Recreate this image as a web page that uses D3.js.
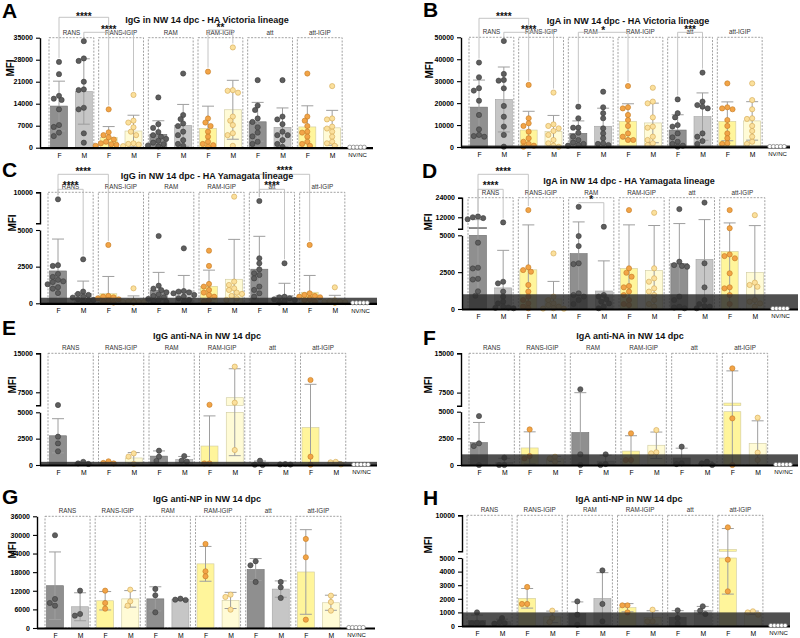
<!DOCTYPE html>
<html><head><meta charset="utf-8">
<script src="https://cdn.jsdelivr.net/npm/d3@7"></script>
<style>body{margin:0;background:#fff} svg{font-family:"Liberation Sans",Arial,sans-serif}</style>
</head><body><svg id="c" width="800" height="638"></svg>
<script>
const groups = ["RANS","RANS-IGIP","RAM","RAM-IGIP","att","att-IGIP"];
const sexes = ["F","M"];
const categories = groups.flatMap(g => sexes.map(s => g + " " + s)).concat(["NV/NC"]);
const nvnc = [0,0,0,0,0];

// values per bar: RANS F, RANS M, RANS-IGIP F, RANS-IGIP M, RAM F, RAM M, RAM-IGIP F, RAM-IGIP M, att F, att M, att-IGIP F, att-IGIP M
const A_IgG_Vic = [
 [27300,23400,16500,15200,15600,12200,7200,6600,4800,3700],
 [33900,27600,28400,21000,18350,18560,12700,12200,4560,1600],
 [12200,4900,4000,3300,2600,1900,1400,1100,900,600],
 [16800,8600,8000,6500,5100,4000,1400,1200,1000,500],
 [16000,7500,6300,5000,4000,3500,2800,2200,1600,1100,700,400],
 [23600,10400,9100,7700,6900,5100,4000,2400,1200,600],
 [24200,9300,8000,6900,5100,3500,1900,1200,800,300],
 [31900,17500,18300,18100,9900,8600,7200,4600,4000,600],
 [21500,13400,12000,9300,8200,6500,4800,3600,1900,1200],
 [21500,9000,9900,7500,5100,4000,4000,2400,1200,300],
 [23600,9900,8600,6900,5100,4800,3500,1900,1200,600],
 [19600,9300,9000,6700,6100,5100,3500,1900,1400,600]
];
const B_IgA_Vic = [
 [38500,31800,25700,26800,21100,14600,8060,5500,4700,5000],
 [48300,33300,30550,30250,26750,18700,13800,9300,5500,150],
 [28300,13100,10800,9600,7000,4000,2400,1400,600,150],
 [24800,10300,9600,8500,7300,5500,3200,1700,600,100],
 [18400,13100,8800,8800,6500,4700,3200,2000,1400,900,600],
 [25200,18100,15400,13100,8500,6200,4000,1700,1400,900],
 [27800,18100,17600,14600,12300,9600,6200,4700,3200,3200],
 [27000,20700,19900,13500,9300,8800,4700,3200,1700,900],
 [21700,15400,13500,10000,9300,6200,4400,2400,1400,600,150],
 [33900,20700,18400,17600,19100,4700,6200,2700,1400],
 [29000,17600,18100,17200,12300,9600,6200,4000,1700,1400],
 [29000,21400,17200,13100,12800,9600,7300,4700,2400,1400]
];
const C_IgG_Yam = [
 [8870,2600,2550,2000,1800,1600,1500,1450,1300,1000,700,1100],
 [3000,800,640,570,450,390,270,230,230,110],
 [3980,500,450,410,340,270,230,180,110,50],
 [1020,150,100,80,60,120,50,90,70],
 [4590,1200,1000,900,750,600,500,400,300,250,150,100],
 [3750,840,800,750,680,570,450,340,230,110],
 [3590,2550,1320,1140,910,730,570,450,230,110],
 [9300,1480,1250,1020,910,730,640,500,340,230],
 [8600,3070,2730,2320,2050,1930,1700,1140,910,680,450],
 [2730,450,410,340,270,230,180,110,50],
 [3980,680,570,500,450,410,340,270,230,110],
 [1090,200,150,120,100,80,60,50,40]
];
const D_IgA_Yam = [
 [12500,12000,11500,10800,4500,2800,2750,2050,2000,1200,900],
 [8860,1850,1740,1180,840,500,380,160,50,100,80],
 [16400,2830,2640,2530,1630,1180,840,610,380,160,50],
 [3770,840,610,380,270,160,50,30,20],
 [18400,4950,4270,3100,3050,1060,950,840,610,340],
 [6220,950,840,660,500,380,160,50],
 [16400,2760,2460,2190,1560,1470,1180,950,610,340,270],
 [14760,2760,2080,1850,1400,1180,950,610,340,160],
 [17000,3210,2870,2920,2980,610,840,160,50,100],
 [21000,3100,1470,610,340,200,160,50],
 [16400,5300,3700,3590,3440,2420,1470,1400,950,340],
 [13300,1790,1630,1510,610,500,380,160]
];
const E_IgG_NA = [
 [5050,2690,2050,1300],[100,300,150],[150,350,200],[1100,800,100],
 [1360,790,380],[850,410,320],[5100,150,150],[12440,5510,1420],
 [410,0,30],[50,80,40],[9870,790,30],[300,250,50]
];
const F_IgA_NA = [
 [4590,2030,1780,0],[690,0,0],[3340,840,620],[780,620,310],
 [8140,1000,0],[1000,0,90],[2970,470,470],[3280,1090,1190],
 [1720,90,160],[310,0,160],[12130,4375,0],[4440,1160,470]
];
const G_IgG_NP = [
 [29900,9350,8060,7200],[12040,4520,3980],[12040,8060,6240],[12360,8600,7200],
 [12580,10540,5050],[9140,9460,9030],[27090,18280,16660],[10750,10000,5910],
 [21500,20210,14840],[14840,13120,9680],[28700,22790,2690],[8390,10430,5590]
];
const H_IgA_NP = [
 [1000,200,180,240],[590,220,270,170],[2870,1620,1620],[1130,590,290],
 [1810,830,100],[4090,1620,340],[1520,1520,1000],[1200,340,340],
 [1150,590,170],[1450,1130,880],[8330,4880,2550],[1080,1000,830]
];

const A_ticks = [0,7000,14000,21000,28000,35000];
const B_ticks = [0,10000,20000,30000,40000,50000];
const C_ticksLo = [0,2500,5000], C_ticksUp = [10000];
const D_ticksLo = [0,2500,5000], D_ticksUp = [12000,24000];
const E_ticksLo = [0,2500,5000], E_ticksUp = [7500,15000];
const F_ticksLo = [0,2500,5000], F_ticksUp = [7500,15000];
const G_ticks = [0,6000,12000,18000,24000,30000,36000];
const H_ticksLo = [0,1000,2000,3000,4000,5000], H_ticksUp = [10000];

const A_sig = [{a:0,b:2,ly:17.3,ty:20,t:"****"},{a:1,b:3,ly:32.3,ty:32.8,t:"****"},{a:6,b:7,ly:30,ty:30.8,t:"**"}];
const B_sig = [{a:0,b:2,ly:18.3,ty:19.8,t:"****"},{a:1,b:3,ly:32.3,ty:32.5,t:"****"},{a:4,b:6,ly:32.3,ty:34,t:"*"},{a:8,b:9,ly:32.3,ty:32.5,t:"***"}];
const C_sig = [{a:0,b:2,ly:174.3,ty:175,t:"****"},{a:0,b:1,ly:189.3,ty:189,t:"****"},{a:8,b:10,ly:174.3,ty:174,t:"****"},{a:8,b:9,ly:189.3,ty:189,t:"****"}];
const D_sig = [{a:0,b:2,ly:174.3,ty:175,t:"****"},{a:0,b:1,ly:189.3,ty:189,t:"****"},{a:4,b:5,ly:202.7,ty:203,t:"*"}];

const panels = [
 {letter:"A",lx:2,ly:18,title:"IgG in NW 14 dpc - HA Victoria lineage",tx:207,ty:23,data:A_IgG_Vic,c0:59,c12:357,yAxisX:40,axisEnd:373,y0:147.7,yTop:37.7,max:35000,ticks:A_ticks,band:0,mfi:[10,68],sig:A_sig},
 {letter:"B",lx:423,ly:17,title:"IgA in NW 14 dpc - HA Victoria lineage",tx:628,ty:23.5,data:B_IgA_Vic,c0:479,c12:777,yAxisX:461,axisEnd:790,y0:147,yTop:37.3,max:50000,ticks:B_ticks,band:700,mfi:[429,70],sig:B_sig},
 {letter:"C",lx:2,ly:177,title:"IgG in NW 14 dpc - HA Yamagata lineage",tx:207,ty:178.5,data:C_IgG_Yam,c0:58,c12:360,yAxisX:40,axisEnd:377,y0:303.3,yTop:192.3,brk:5000,yLoTop:230,yUpBot:223.3,max:10000,ticksLo:C_ticksLo,ticksUp:C_ticksUp,band:380,mfi:[12,223],sig:C_sig},
 {letter:"D",lx:422,ly:178,title:"IgA in NW 14 dpc - HA Yamagata lineage",tx:629,ty:183.5,data:D_IgA_Yam,c0:478,c12:780,yAxisX:462,axisEnd:798,y0:309,yTop:197.7,brk:5000,yLoTop:235.3,yUpBot:228.7,max:24000,ticksLo:D_ticksLo,ticksUp:D_ticksUp,band:1000,mfi:[428,222],sig:D_sig},
 {letter:"E",lx:2,ly:335,title:"IgG anti-NA in NW 14 dpc",tx:207,ty:338.5,data:E_IgG_NA,c0:58,c12:361,yAxisX:40,axisEnd:377,y0:465,yTop:353.3,brk:5000,yLoTop:412.3,yUpBot:405.3,max:15000,ticksLo:E_ticksLo,ticksUp:E_ticksUp,band:300,mfi:[12,385],sig:[]},
 {letter:"F",lx:423,ly:345,title:"IgA anti-NA in NW 14 dpc",tx:630,ty:338.5,data:F_IgA_NA,c0:479,c12:783,yAxisX:461,axisEnd:798,y0:465,yTop:353.3,brk:5000,yLoTop:411.7,yUpBot:405.7,max:15000,ticksLo:F_ticksLo,ticksUp:F_ticksUp,band:1000,mfi:[428,385],sig:[]},
 {letter:"G",lx:2,ly:504,title:"IgG anti-NP in NW 14 dpc",tx:207,ty:502,data:G_IgG_NP,c0:55,c12:356,yAxisX:37,axisEnd:375,y0:628,yTop:516.3,max:36000,ticks:G_ticks,band:0,mfi:[12,550],sig:[]},
 {letter:"H",lx:423,ly:505,title:"IgA anti-NP in NW 14 dpc",tx:629,ty:501.5,data:H_IgA_NP,c0:477,c12:778,yAxisX:462,axisEnd:790,y0:626,yTop:515.3,brk:5000,yLoTop:558,yUpBot:551.3,max:10000,ticksLo:H_ticksLo,ticksUp:H_ticksUp,band:1000,mfi:[428,545],sig:[]}
];

const svg = d3.select("#c");
const FONT = "'Liberation Sans', Arial, sans-serif";

function swarm(vals, y, cx, r){
  const placed = [];
  const pts = vals.map(v => ({v, py:y(v)})).sort((a,b) => a.py - b.py);
  const offs = [0,-1,1,-2,2,-3,3,-4,4,-5,5].map(k => k*2.6);
  pts.forEach(d => {
    for (const o of offs){
      const px = cx + o;
      if (placed.every(q => Math.hypot(q.px-px, q.py-d.py) >= 2*r*0.92)) { d.px = px; placed.push(d); return; }
    }
    d.px = cx; placed.push(d);
  });
  return placed;
}

function styleAxis(ga){
  ga.attr("font-family", FONT).attr("font-size", 7).attr("font-weight", "bold");
  ga.select(".domain").attr("stroke", "#000").attr("stroke-width", 1.4);
  ga.selectAll(".tick line").attr("stroke", "#000").attr("stroke-width", 1.1);
  ga.selectAll(".tick text").attr("fill", "#000");
}

panels.forEach(p => {
  const g = svg.append("g");
  const x = d3.scalePoint().domain(categories).range([p.c0, p.c12]);
  const lo = d3.scaleLinear().domain([0, p.brk || p.max]).range([p.y0, p.brk ? p.yLoTop : p.yTop]);
  const up = p.brk ? d3.scaleLinear().domain([p.brk, p.max]).range([p.yUpBot, p.yTop]) : null;
  const y = v => (p.brk && v > p.brk) ? up(v) : lo(v);

  // group boxes + labels
  groups.forEach(gr => {
    const xf = x(gr + " F"), xm = x(gr + " M");
    g.append("rect").attr("x", xf - 10).attr("y", p.yTop).attr("width", xm - xf + 20).attr("height", p.y0 - p.yTop)
      .attr("fill", "none").attr("stroke", "#8a8a8a").attr("stroke-width", 0.8).attr("stroke-dasharray", "2,1.4");
    g.append("text").attr("x", (xf + xm) / 2).attr("y", p.yTop - 3).attr("text-anchor", "middle")
      .attr("font-size", 6.3).attr("fill", "#333").text(gr);
  });

  // significance brackets
  p.sig.forEach(s => {
    const xa = x(categories[s.a]), xb = x(categories[s.b]);
    const ta = y(d3.max(p.data[s.a])) - 4, tb = y(d3.max(p.data[s.b])) - 4;
    const path = `M${xa},${Math.max(ta, s.ly)}V${s.ly}H${xb}V${Math.max(tb, s.ly)}`;
    g.append("path").attr("d", path).attr("fill", "none").attr("stroke", "#bdbdbd").attr("stroke-width", 0.9);
    g.append("text").attr("x", (xa + xb) / 2).attr("y", s.ty).attr("text-anchor", "middle")
      .attr("font-size", 10).attr("font-weight", "bold").attr("fill", "#111").text(s.t);
  });

  // bars, error bars, dots
  categories.slice(0, 12).forEach((cat, i) => {
    const vals = p.data[i];
    const m = d3.mean(vals), sd = d3.deviation(vals);
    const gi = Math.floor(i / 2), s = i % 2, igip = groups[gi].includes("IGIP");
    const cx = x(cat), bw = 17;
    const fill = !igip ? (s === 0 ? "#8f8f8f" : "#c6c6c6") : (s === 0 ? "#fff59b" : "#fffbd6");
    const stroke = !igip ? (s === 0 ? "#6f6f6f" : "#a3a3a3") : "#cfcaa0";
    const bar = (y1, y2) => g.append("rect").attr("x", cx - bw / 2).attr("y", y1).attr("width", bw).attr("height", Math.max(0, y2 - y1))
      .attr("fill", fill).attr("stroke", stroke).attr("stroke-width", 0.6);
    if (p.brk && m > p.brk) { bar(p.yLoTop, p.y0); bar(up(m), p.yUpBot); }
    else bar(y(m), p.y0);

    const top = m + sd, bot = Math.max(0, m - sd);
    const ec = "#9e9e9e";
    g.append("line").attr("x1", cx).attr("x2", cx).attr("y1", y(bot)).attr("y2", y(top)).attr("stroke", ec).attr("stroke-width", 1);
    g.append("line").attr("x1", cx - 6).attr("x2", cx + 6).attr("y1", y(top)).attr("y2", y(top)).attr("stroke", ec).attr("stroke-width", 1);
    if (bot > 0) g.append("line").attr("x1", cx - 6).attr("x2", cx + 6).attr("y1", y(bot)).attr("y2", y(bot)).attr("stroke", ec).attr("stroke-width", 1);

    const df = !igip ? "#5e5e5e" : (s === 0 ? "#f2a447" : "#fbe09c");
    const ds = !igip ? "#3d3d3d" : (s === 0 ? "#c27a24" : "#d2a653");
    swarm(vals, y, cx, 2.6).forEach(d => {
      g.append("circle").attr("cx", d.px).attr("cy", d.py).attr("r", 2.6)
        .attr("fill", df).attr("stroke", ds).attr("stroke-width", 0.6);
    });
  });

  // threshold band
  if (p.band > 0) {
    g.append("rect").attr("x", p.yAxisX).attr("y", y(p.band)).attr("width", p.axisEnd - p.yAxisX).attr("height", p.y0 - y(p.band) + 1)
      .attr("fill", "#2f2f2f").attr("opacity", 0.84);
  }

  // x axis
  g.append("line").attr("x1", p.yAxisX).attr("x2", p.axisEnd).attr("y1", p.y0 + 0.5).attr("y2", p.y0 + 0.5)
    .attr("stroke", "#000").attr("stroke-width", 2.2);
  const xa = g.append("g").attr("transform", `translate(0,${p.y0})`)
    .call(d3.axisBottom(x).tickSize(0).tickPadding(5).tickFormat(d => d === "NV/NC" ? d : d.split(" ")[1]));
  xa.select(".domain").remove();
  xa.attr("font-family", FONT).attr("font-size", 6.8);
  xa.selectAll(".tick text").attr("fill", "#000").filter(d => d === "NV/NC").attr("font-size", 6);

  // NV/NC dots
  const nx = x("NV/NC");
  nvnc.forEach((v, k) => {
    g.append("circle").attr("cx", nx + (k - 2) * 3.6).attr("cy", y(v) - 0.5).attr("r", 2.1)
      .attr("fill", "#fff").attr("stroke", "#7a7a7a").attr("stroke-width", 0.7);
  });

  // y axis
  if (p.brk) {
    const gl = g.append("g").attr("transform", `translate(${p.yAxisX},0)`)
      .call(d3.axisLeft(lo).tickValues(p.ticksLo).tickSize(4).tickSizeOuter(0).tickFormat(d3.format("d")));
    styleAxis(gl);
    const gu = g.append("g").attr("transform", `translate(${p.yAxisX},0)`)
      .call(d3.axisLeft(up).tickValues(p.ticksUp).tickSize(4).tickSizeOuter(4).tickFormat(d3.format("d")));
    styleAxis(gu);
  } else {
    const ga = g.append("g").attr("transform", `translate(${p.yAxisX},0)`)
      .call(d3.axisLeft(lo).tickValues(p.ticks).tickSize(4).tickSizeOuter(0).tickFormat(d3.format("d")));
    styleAxis(ga);
  }

  // titles
  g.append("text").attr("x", p.tx).attr("y", p.ty).attr("text-anchor", "middle")
    .attr("font-size", 9).attr("font-weight", "bold").attr("fill", "#111").text(p.title);
  g.append("text").attr("x", p.lx).attr("y", p.ly).attr("font-size", 21).attr("font-weight", "bold").attr("fill", "#000").text(p.letter);
  g.append("text").attr("transform", `translate(${p.mfi[0] + 3.5},${p.mfi[1]}) rotate(-90)`).attr("text-anchor", "middle")
    .attr("font-size", 10).attr("font-weight", "bold").attr("fill", "#000").text("MFI");
});
</script></body></html>
